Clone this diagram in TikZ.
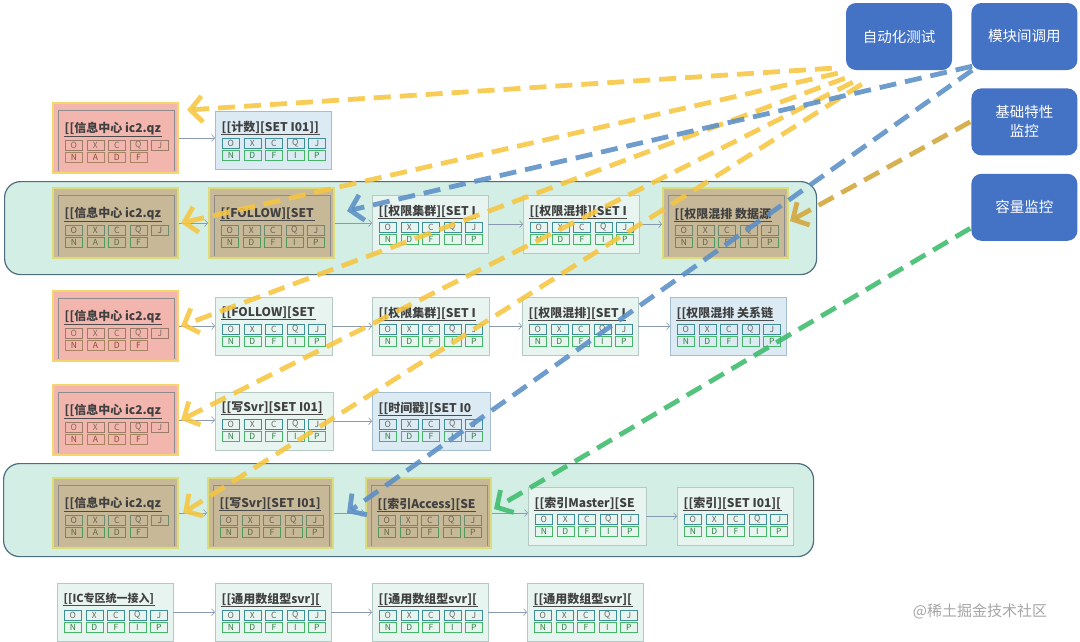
\documentclass[tikz,border=0pt]{standalone}
\usepackage{fontspec}
\setmainfont{Noto Sans CJK SC}
\usetikzlibrary{positioning,calc,arrows.meta}

\definecolor{ylw}{HTML}{F6C640}
\definecolor{blu}{HTML}{5B8FC6}
\definecolor{gld}{HTML}{D2A63A}
\definecolor{grn}{HTML}{3DBB6C}
\definecolor{btnc}{HTML}{4472C4}
\definecolor{upn}{HTML}{3F8E96}
\definecolor{dnn}{HTML}{45B567}
\definecolor{dnntxt}{HTML}{2C8040}
\definecolor{upp}{HTML}{9A7D68}
\definecolor{upptxt}{HTML}{7D6A5A}
\definecolor{dnp}{HTML}{A88560}
\definecolor{dnptxt}{HTML}{8A4A30}
\definecolor{upt}{HTML}{6F8A72}
\definecolor{upttxt}{HTML}{6A6050}
\definecolor{dnt}{HTML}{4F9A5C}
\definecolor{dnttxt}{HTML}{5A6A40}
\definecolor{pinkedge}{HTML}{F5D66C}
\definecolor{pinkfill}{HTML}{F3B6AE}
\definecolor{tanedge}{HTML}{DCDC78}
\definecolor{tanfill}{HTML}{C7B898}
\definecolor{blueedge}{HTML}{A5BDD0}
\definecolor{bluefill}{HTML}{DBEAF3}
\definecolor{greenedge}{HTML}{B3CBC4}
\definecolor{greenfill}{HTML}{E8F4F0}
\definecolor{grpedge}{HTML}{4F6D80}
\definecolor{grpfill}{HTML}{D3EEE5}
\definecolor{linkc}{HTML}{8A9AB0}

\tikzset{
	ttl/.style={anchor=west,inner sep=0.5pt,text=black!75,font=\fontsize{12}{13}\selectfont\bfseries},
	ttlline/.style={draw=black!70,line width=0.6pt},
	cellupn/.style={draw=upn,text=black!60,minimum width=17pt,minimum height=10pt,inner sep=0pt,anchor=north west,line width=0.7pt,font=\fontsize{8.5}{9}\selectfont},
	celldnn/.style={cellupn,draw=dnn,text=dnntxt},
	cellupp/.style={cellupn,draw=upp,text=upptxt},
	celldnp/.style={cellupn,draw=dnp,text=dnptxt},
	cellupt/.style={cellupn,draw=upt,text=upttxt},
	celldnt/.style={cellupn,draw=dnt,text=dnttxt},
	hlp/.style={draw=pinkedge,line width=2pt,fill=pinkfill,minimum width=125pt,minimum height=70pt,inner sep=0pt},
	hlt/.style={hlp,draw=tanedge,fill=tanfill},
	bluebox/.style={draw=blueedge,fill=bluefill,minimum height=58pt,inner sep=0pt},
	greenbox/.style={bluebox,draw=greenedge,fill=greenfill},
	frame/.style={draw=black!45,line width=0.6pt},
	grp/.style={draw=grpedge,line width=1.2pt,fill=grpfill,rounded corners=16pt,inner sep=0pt},
	btn/.style={fill=btnc,text=white,rounded corners=10pt,minimum width=106pt,minimum height=67pt,inner sep=2pt,align=center,font=\fontsize{14.5}{19}\selectfont},
	link/.style={draw=linkc,line width=0.6pt,-{Straight Barb[length=3pt,width=7pt]}},
	feed/.style={line width=4.8pt,dash pattern=on 17pt off 9pt,draw opacity=0.88,-{Straight Barb[length=12pt,width=26pt]}},
	wm/.style={text=black!35,font=\fontsize{15}{16}\selectfont}
}

% table body: name, x, y, title, palette, lower letters
\newcommand{\tblbody}[6]{%
	\node[ttl] (#1-t) at (#2+6,#3+16) {#4};
	\draw[ttlline] (#1-t.south west) -- (#1-t.south east);
	\foreach \c [count=\i from 0] in {O,X,C,Q,J}
		\node[cellup#5] (#1-u\i) at (#2+7+21.5*\i,#3+27) {\c};
	\foreach \c [count=\i from 0] in {#6}
		\node[celldn#5] (#1-d\i) at (#2+7+21.5*\i,#3+39) {\c};
}
\newcommand{\plainbox}[6]{% name, x, y, width, style, title
	\node[#5,minimum width=#4,anchor=north west] (#1) at (#2,#3) {};
	\tblbody{#1}{#2}{#3}{#6}{n}{N,D,F,I,P}
}
\newcommand{\hlbox}[6]{% name, x, y, palette, title, lower letters
	\node[hl#4,anchor=north west] (#1) at (#2,#3) {};
	\draw[frame] (#2+6,#3+69) |- (#2+122,#3+8) -- (#2+122,#3+69);
	\tblbody{#1}{#2+6}{#3+11}{#5}{#4}{#6}
}

\begin{document}
\begin{tikzpicture}[x=1pt,y=-1pt]

	%\draw[help lines] (0,0) grid (1080,641);
	\useasboundingbox (0,0) rectangle (1080,641);
	\fill[white] (0,0) rectangle (1080,641);

	\node[grp,minimum width=812pt,minimum height=93pt,anchor=north west] (grpa) at (4,181) {};
	\node[grp,minimum width=810pt,minimum height=93pt,anchor=north west] (grpb) at (3,463) {};

	\hlbox{ra1}{52}{102}{p}{[[信息中心 ic2.qz}{N,A,D,F}
	\plainbox{ra2}{215}{111}{116}{bluebox}{[[计数][SET I01]]}

	\hlbox{rb1}{52}{187}{t}{[[信息中心 ic2.qz}{N,A,D,F}
	\hlbox{rb2}{208}{187}{t}{[[FOLLOW][SET}{N,D,F,I,P}
	\plainbox{rb3}{372}{195}{116}{greenbox}{[[权限集群][SET I}
	\plainbox{rb4}{523}{195}{116}{greenbox}{[[权限混排][SET I}
	\hlbox{rb5}{662}{187}{t}{[[权限混排 数据源}{N,D,F,I,P}

	\hlbox{rc1}{52}{290}{p}{[[信息中心 ic2.qz}{N,A,D,F}
	\plainbox{rc2}{215}{297}{117}{greenbox}{[[FOLLOW][SET}
	\plainbox{rc3}{372}{297}{117}{greenbox}{[[权限集群][SET I}
	\plainbox{rc4}{522}{297}{116}{greenbox}{[[权限混排][SET I}
	\plainbox{rc5}{670}{297}{116}{bluebox}{[[权限混排 关系链}

	\hlbox{rd1}{52}{384}{p}{[[信息中心 ic2.qz}{N,A,D,F}
	\plainbox{rd2}{215}{392}{118}{greenbox}{[[写Svr][SET I01]}
	\plainbox{rd3}{372}{392}{118}{bluebox}{[[时间戳][SET I0}

	\hlbox{re1}{52}{477}{t}{[[信息中心 ic2.qz}{N,A,D,F}
	\hlbox{re2}{207}{477}{t}{[[写Svr][SET I01]}{N,D,F,I,P}
	\hlbox{re3}{365}{477}{t}{[[索引Access][SE}{N,D,F,I,P}
	\plainbox{re4}{528}{487}{118}{greenbox}{[[索引Master][SE}
	\plainbox{re5}{677}{487}{116}{greenbox}{[[索引][SET I01][}

	\plainbox{rf1}{57}{583}{116}{greenbox}{\fontsize{11}{12}\selectfont[[IC专区统一接入]}
	\plainbox{rf2}{215}{583}{116}{greenbox}{[[通用数组型svr][}
	\plainbox{rf3}{372}{583}{116}{greenbox}{[[通用数组型svr][}
	\plainbox{rf4}{527}{583}{116}{greenbox}{[[通用数组型svr][}

	\foreach \a/\b in {ra1/ra2,rb1/rb2,rb2/rb3,rb3/rb4,rb4/rb5,rc1/rc2,rc2/rc3,rc3/rc4,rc4/rc5,
		rd1/rd2,rd2/rd3,re1/re2,re2/re3,re3/re4,re4/re5,rf1/rf2,rf2/rf3,rf3/rf4}
		\draw[link] (\a.east) -- (\a.east -| \b.west);

	\node[btn] (auto) at (899,36.5) {自动化测试};
	\node[btn,right=19pt of auto] (mod) {模块间调用};
	\node[btn,below=18pt of mod] (base) {基础特性\\监控};
	\node[btn,below=18pt of base] (cap) {容量监控};

	\draw[feed,ylw] ($(auto.south west)+(-14,-2)$) -- ($(ra1.north east)+(8,8)$);
	\draw[feed,ylw] ($(auto.south west)+(-8,3)$) -- ($(rb1.east)+(2,0)$);
	\draw[feed,ylw] ($(auto.south west)+(-1,8)$) -- ($(rc1.east)+(2,0)$);
	\draw[feed,ylw] ($(auto.south west)+(7,12)$) -- ($(rd1.east)+(2,0)$);
	\draw[feed,ylw] ($(auto.south west)+(16,14)$) -- ($(re1.east)+(4,0)$);

	\draw[feed,blu] ($(mod.south west)+(1,-4)$) -- ($(rb3.north west)+(-25,16)$);
	\draw[feed,blu] ($(mod.south west)+(1,0)$) -- ($(re3.west)+(-18,0)$);
	\draw[feed,gld] ($(base.west)+(-1,0)$) -- ($(rb5.east)+(1,-2)$);
	\draw[feed,grn] ($(cap.west)+(-1,21)$) -- ($(re3.east)+(2,-4)$);

	\node[wm] (mark) at (980,611) {@稀土掘金技术社区};

\end{tikzpicture}
\end{document}
